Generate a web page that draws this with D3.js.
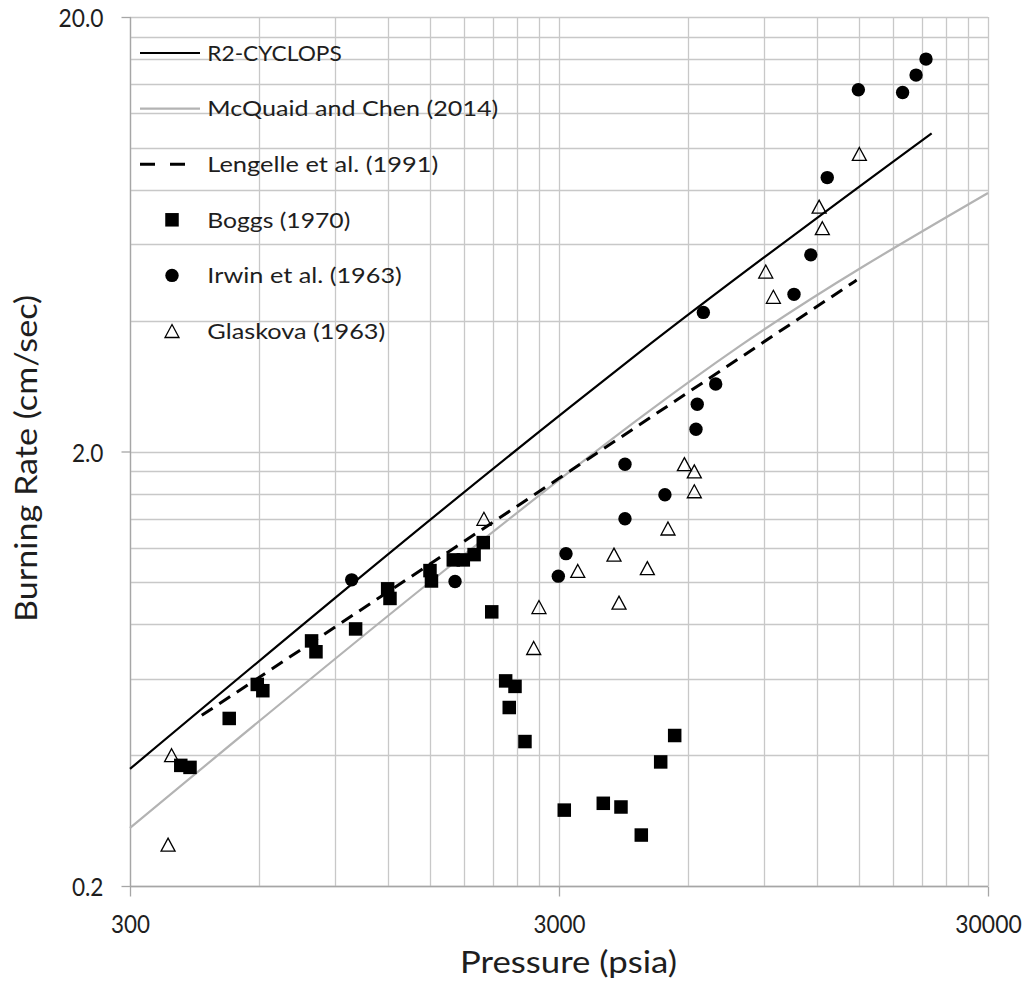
<!DOCTYPE html>
<html><head><meta charset="utf-8">
<script src="https://cdn.jsdelivr.net/npm/d3@7"></script>
<style>body{margin:0;background:#fff}</style>
</head><body>
<svg id="c" width="1027" height="985"></svg>
<script>
// ---- data ----
const xTicks = [300, 3000, 30000];
const xTickLabels = ["300", "3000", "30000"];
const yTicks = [0.2, 2, 20];
const yTickLabels = ["0.2", "2.0", "20.0"];

const r2Pressure = [300, 3183, 4635, 22170];
const r2Rate = [0.372, 2.53, 3.39, 10.8];

const mcqPressure = [300, 1584, 3183, 4635, 7926, 30000];
const mcqRate = [0.272, 1.045, 1.80, 2.39, 3.50, 7.87];

const lenPressure = [441, 3000, 14820];
const lenRate = [0.494, 1.735, 4.96];

const boggsPressure = [394, 414, 511, 594, 612, 795, 814, 1007, 1196, 1211, 1501, 1513, 1701, 1795, 1902, 1998, 2091, 2253, 2369, 2297, 2499, 3086, 3805, 4184, 4666, 5178, 5582];
const boggsRate = [0.379, 0.375, 0.486, 0.582, 0.563, 0.733, 0.692, 0.781, 0.966, 0.918, 1.064, 1.007, 1.126, 1.126, 1.158, 1.234, 0.855, 0.593, 0.576, 0.515, 0.430, 0.299, 0.310, 0.304, 0.262, 0.386, 0.444];

const irwinPressure = [986, 1717, 2989, 3115, 4275, 4275, 5297, 6258, 6300, 6957, 6510, 10590, 11590, 12660, 14960, 18970, 20390, 21510];
const irwinRate = [1.013, 1.004, 1.033, 1.164, 1.40, 1.87, 1.59, 2.25, 2.57, 2.86, 4.18, 4.60, 5.67, 8.54, 13.6, 13.4, 14.7, 16.0];

const glaskovaPressure = [375, 368, 2005, 2694, 2619, 3318, 4030, 4140, 4820, 5385, 5881, 6202, 6202, 9100, 9480, 12120, 12330, 15040];
const glaskovaRate = [0.40, 0.249, 1.40, 0.877, 0.706, 1.062, 1.158, 0.898, 1.078, 1.33, 1.87, 1.80, 1.62, 5.19, 4.54, 7.32, 6.53, 9.68];

const legendLabels = ["R2-CYCLOPS", "McQuaid and Chen (2014)", "Lengelle et al. (1991)", "Boggs (1970)", "Irwin et al. (1963)", "Glaskova (1963)"];

// ---- layout ----
const L = 130, R = 988, T = 17, B = 886;
const FONT = "Lato, 'Open Sans', sans-serif";
const TXT = "#1e1e1e";
const svg = d3.select("#c");
const x = d3.scaleLog().domain([300, 30000]).range([L, R]);
const y = d3.scaleLog().domain([0.2, 20]).range([B, T]);

// rendered text widths of the reference (layout only)
const legendTextWidths = [134.5, 291, 231, 143, 194.5, 178];
const xTickWidths = [39, 52, 66.5];
const yTickWidths = [31.6, 31.6, 45];

// grid
const xGrid = [];
[300, 3000].forEach(b => { for (let k = 1; k <= 10; k++) xGrid.push(b * k); });
const yGrid = [];
[0.2, 2].forEach(b => { for (let k = 1; k <= 10; k++) yGrid.push(+(b * k).toFixed(4)); });
const g = svg.append("g");
g.selectAll("line.vx").data(Array.from(new Set(xGrid))).join("line")
  .attr("x1", d => Math.round(x(d)) + 0.5).attr("x2", d => Math.round(x(d)) + 0.5)
  .attr("y1", T).attr("y2", B).attr("stroke", "#c8c8c8").attr("stroke-width", 1.3);
g.selectAll("line.hy").data(Array.from(new Set(yGrid))).join("line")
  .attr("y1", d => Math.round(y(d)) + 0.5).attr("y2", d => Math.round(y(d)) + 0.5)
  .attr("x1", L).attr("x2", R).attr("stroke", "#c8c8c8").attr("stroke-width", 1.3);

// axes
const xAxis = d3.axisBottom(x).tickValues(xTicks).tickFormat((d, i) => xTickLabels[i]).tickSize(10).tickPadding(0);
const yAxis = d3.axisLeft(y).tickValues(yTicks).tickFormat((d, i) => yTickLabels[i]).tickSize(9).tickPadding(0);
const gx = svg.append("g").attr("transform", `translate(0,${B + 0.5})`).call(xAxis);
const gy = svg.append("g").attr("transform", `translate(${L + 0.5},0)`).call(yAxis);
[gx, gy].forEach(a => {
  a.select(".domain").attr("stroke", "#a6a6a6").attr("stroke-width", 1.3);
  a.selectAll(".tick line").attr("stroke", "#a6a6a6").attr("stroke-width", 1.3);
  a.selectAll(".tick text").attr("font-family", FONT).attr("font-size", 25).attr("fill", TXT)
    .attr("lengthAdjust", "spacingAndGlyphs");
});
gx.select(".domain").attr("d", `M${L},0H${R}`);
gy.select(".domain").attr("d", `M0,${B}V${T}`);
gx.selectAll(".tick text").attr("y", 46).attr("dy", null).attr("textLength", (d, i) => xTickWidths[i]);
gy.selectAll(".tick text").attr("x", -27).attr("dy", 9.5).attr("textLength", (d, i) => yTickWidths[i]);

// titles
svg.append("text").attr("x", 568.5).attr("y", 973.3).attr("text-anchor", "middle")
  .attr("font-family", FONT).attr("font-size", 30).attr("fill", TXT)
  .attr("textLength", 217).attr("lengthAdjust", "spacingAndGlyphs").text("Pressure (psia)");
svg.append("text").attr("transform", "translate(37,458.5) rotate(-90)").attr("text-anchor", "middle")
  .attr("font-family", FONT).attr("font-size", 30).attr("fill", TXT)
  .attr("textLength", 327).attr("lengthAdjust", "spacingAndGlyphs").text("Burning Rate (cm/sec)");

// lines
const line = d3.line().x(d => x(d[0])).y(d => y(d[1])).curve(d3.curveMonotoneX);
svg.append("path").datum(mcqPressure.map((p, i) => [p, mcqRate[i]])).attr("d", line)
  .attr("fill", "none").attr("stroke", "#b3b3b3").attr("stroke-width", 2.2);
svg.append("path").datum(lenPressure.map((p, i) => [p, lenRate[i]])).attr("d", line)
  .attr("fill", "none").attr("stroke", "#000").attr("stroke-width", 3).attr("stroke-dasharray", "13,8");
svg.append("path").datum(r2Pressure.map((p, i) => [p, r2Rate[i]])).attr("d", line)
  .attr("fill", "none").attr("stroke", "#000").attr("stroke-width", 2.2);

// markers
const sq = 13.5, cr = 6.7;
function tri(cx, cy) {
  const w = 14, h = 13;
  return `M${cx},${cy - h / 2}L${cx + w / 2},${cy + h / 2}L${cx - w / 2},${cy + h / 2}Z`;
}
svg.append("g").selectAll("rect").data(boggsPressure.map((p, i) => [p, boggsRate[i]])).join("rect")
  .attr("x", d => x(d[0]) - sq / 2).attr("y", d => y(d[1]) - sq / 2).attr("width", sq).attr("height", sq).attr("fill", "#000");
svg.append("g").selectAll("circle").data(irwinPressure.map((p, i) => [p, irwinRate[i]])).join("circle")
  .attr("cx", d => x(d[0])).attr("cy", d => y(d[1])).attr("r", cr).attr("fill", "#000");
svg.append("g").selectAll("path").data(glaskovaPressure.map((p, i) => [p, glaskovaRate[i]])).join("path")
  .attr("d", d => tri(x(d[0]), y(d[1]))).attr("fill", "none").attr("stroke", "#000").attr("stroke-width", 1.3);

// legend
const lg = svg.append("g");
const ly0 = 53, ldy = 55.6;
legendLabels.forEach((lab, i) => {
  const yy = ly0 + i * ldy;
  if (i === 0) lg.append("line").attr("x1", 140).attr("x2", 200).attr("y1", yy).attr("y2", yy).attr("stroke", "#000").attr("stroke-width", 2.2);
  if (i === 1) lg.append("line").attr("x1", 140).attr("x2", 200).attr("y1", yy).attr("y2", yy).attr("stroke", "#b3b3b3").attr("stroke-width", 2.2);
  if (i === 2) lg.append("line").attr("x1", 140).attr("x2", 186).attr("y1", yy).attr("y2", yy).attr("stroke", "#000").attr("stroke-width", 3).attr("stroke-dasharray", "15,15");
  if (i === 3) lg.append("rect").attr("x", 172 - sq / 2).attr("y", yy - sq / 2).attr("width", sq).attr("height", sq).attr("fill", "#000");
  if (i === 4) lg.append("circle").attr("cx", 172).attr("cy", yy).attr("r", cr).attr("fill", "#000");
  if (i === 5) lg.append("path").attr("d", tri(172, yy)).attr("fill", "none").attr("stroke", "#000").attr("stroke-width", 1.3);
  lg.append("text").attr("x", 207.3).attr("y", yy + 7.7).attr("font-family", FONT)
    .attr("font-size", 21.4).attr("fill", TXT)
    .attr("textLength", legendTextWidths[i]).attr("lengthAdjust", "spacingAndGlyphs").text(lab);
});
</script>
</body></html>
